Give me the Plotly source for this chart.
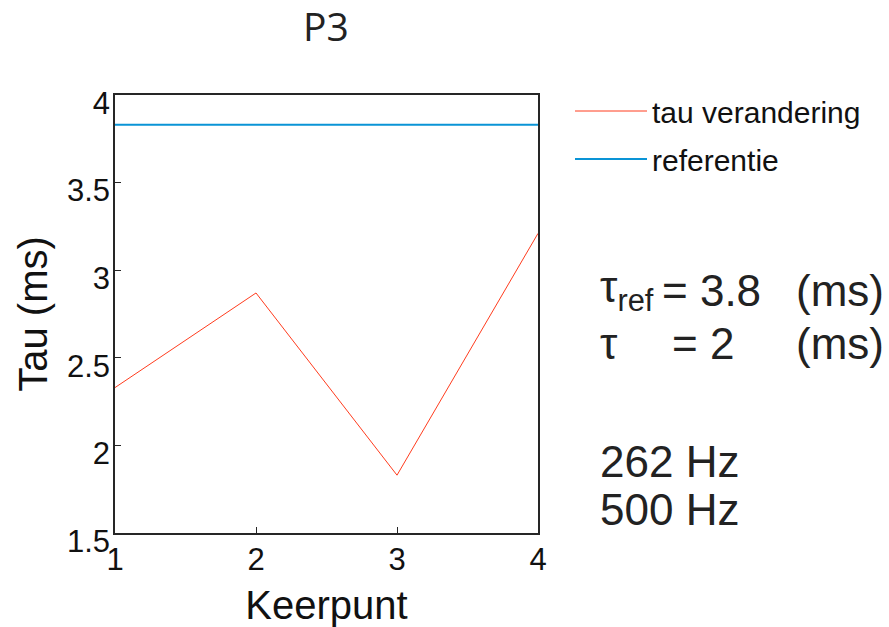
import plotly.graph_objects as go

keerpunt = [1, 2, 3, 4]
tau_verandering = [2.33, 2.87, 1.83, 3.21]
referentie = [3.83, 3.83, 3.83, 3.83]
y_ticks = [1.5, 2, 2.5, 3, 3.5, 4]
y_tick_text = ["1.5", "2", "2.5", "3", "3.5", "4"]
x_ticks = [1, 2, 3, 4]

W, H = 889, 627
L, R, T, B = 115, 351, 95, 94
pw, ph = W - L - R, H - T - B

def px(x):
    return (x - L) / pw

def py(y):
    return (H - B - y) / ph

fig = go.Figure()
fig.add_trace(go.Scatter(x=keerpunt, y=tau_verandering, mode="lines",
                         name="tau verandering", legendgroup="a",
                         line=dict(color="#FF3C1E", width=1)))
fig.add_trace(go.Scatter(x=keerpunt, y=referentie, mode="lines",
                         name="referentie", legendgroup="b",
                         line=dict(color="#0A94D6", width=2)))

FONT = "Liberation Sans, Arial"
axis_common = dict(showgrid=False, zeroline=False, showline=True,
                   linecolor="#262626", linewidth=1.6, mirror=True,
                   ticks="inside", ticklen=6, tickcolor="#262626",
                   automargin=False,
                   tickfont=dict(family=FONT, size=31, color="#111"))

fig.update_xaxes(range=[1, 4], tickvals=x_ticks, ticktext=[str(v) for v in x_ticks],
                 ticklabelstandoff=-2,
                 title=dict(text="Keerpunt", font=dict(family=FONT, size=40, color="#111"),
                            standoff=18),
                 **axis_common)
fig.update_yaxes(range=[1.5, 4], tickvals=y_ticks, ticktext=y_tick_text,
                 ticklabelstandoff=-3, ticklabelshift=8,
                 title=dict(text="Tau (ms)", font=dict(family=FONT, size=40, color="#111"),
                            standoff=7),
                 **axis_common)

ann_font = dict(family=FONT, size=44, color="#222")
annotations = [
    dict(x=px(598), y=py(290), text="τ<sub>ref</sub>"),
    dict(x=px(660), y=py(290), text="= 3.8"),
    dict(x=px(794), y=py(290), text="(ms)"),
    dict(x=px(598), y=py(343), text="τ"),
    dict(x=px(670), y=py(343), text="= 2"),
    dict(x=px(794), y=py(343), text="(ms)"),
    dict(x=px(598), y=py(461), text="262 Hz"),
    dict(x=px(598), y=py(509), text="500 Hz"),
]
for a in annotations:
    a.update(xref="paper", yref="paper", showarrow=False, font=ann_font,
             xanchor="left", yanchor="middle")

fig.update_layout(
    width=W, height=H,
    margin=dict(l=L, r=R, t=T, b=B, autoexpand=False),
    paper_bgcolor="white", plot_bgcolor="white",
    title=dict(text="P3", x=326 / W, xanchor="center", y=1 - 27 / H, yanchor="middle",
               font=dict(family="Open Sans", size=39, color="#222")),
    legend=dict(x=px(570), y=py(85), xanchor="left", yanchor="top",
                font=dict(family=FONT, size=30, color="#111"),
                bgcolor="rgba(0,0,0,0)", itemwidth=72, tracegroupgap=6,
                traceorder="grouped"),
    annotations=annotations,
    showlegend=True,
)

fig.write_html("out.html", config={"displayModeBar": False},
               post_script="document.body.style.margin='0';")
